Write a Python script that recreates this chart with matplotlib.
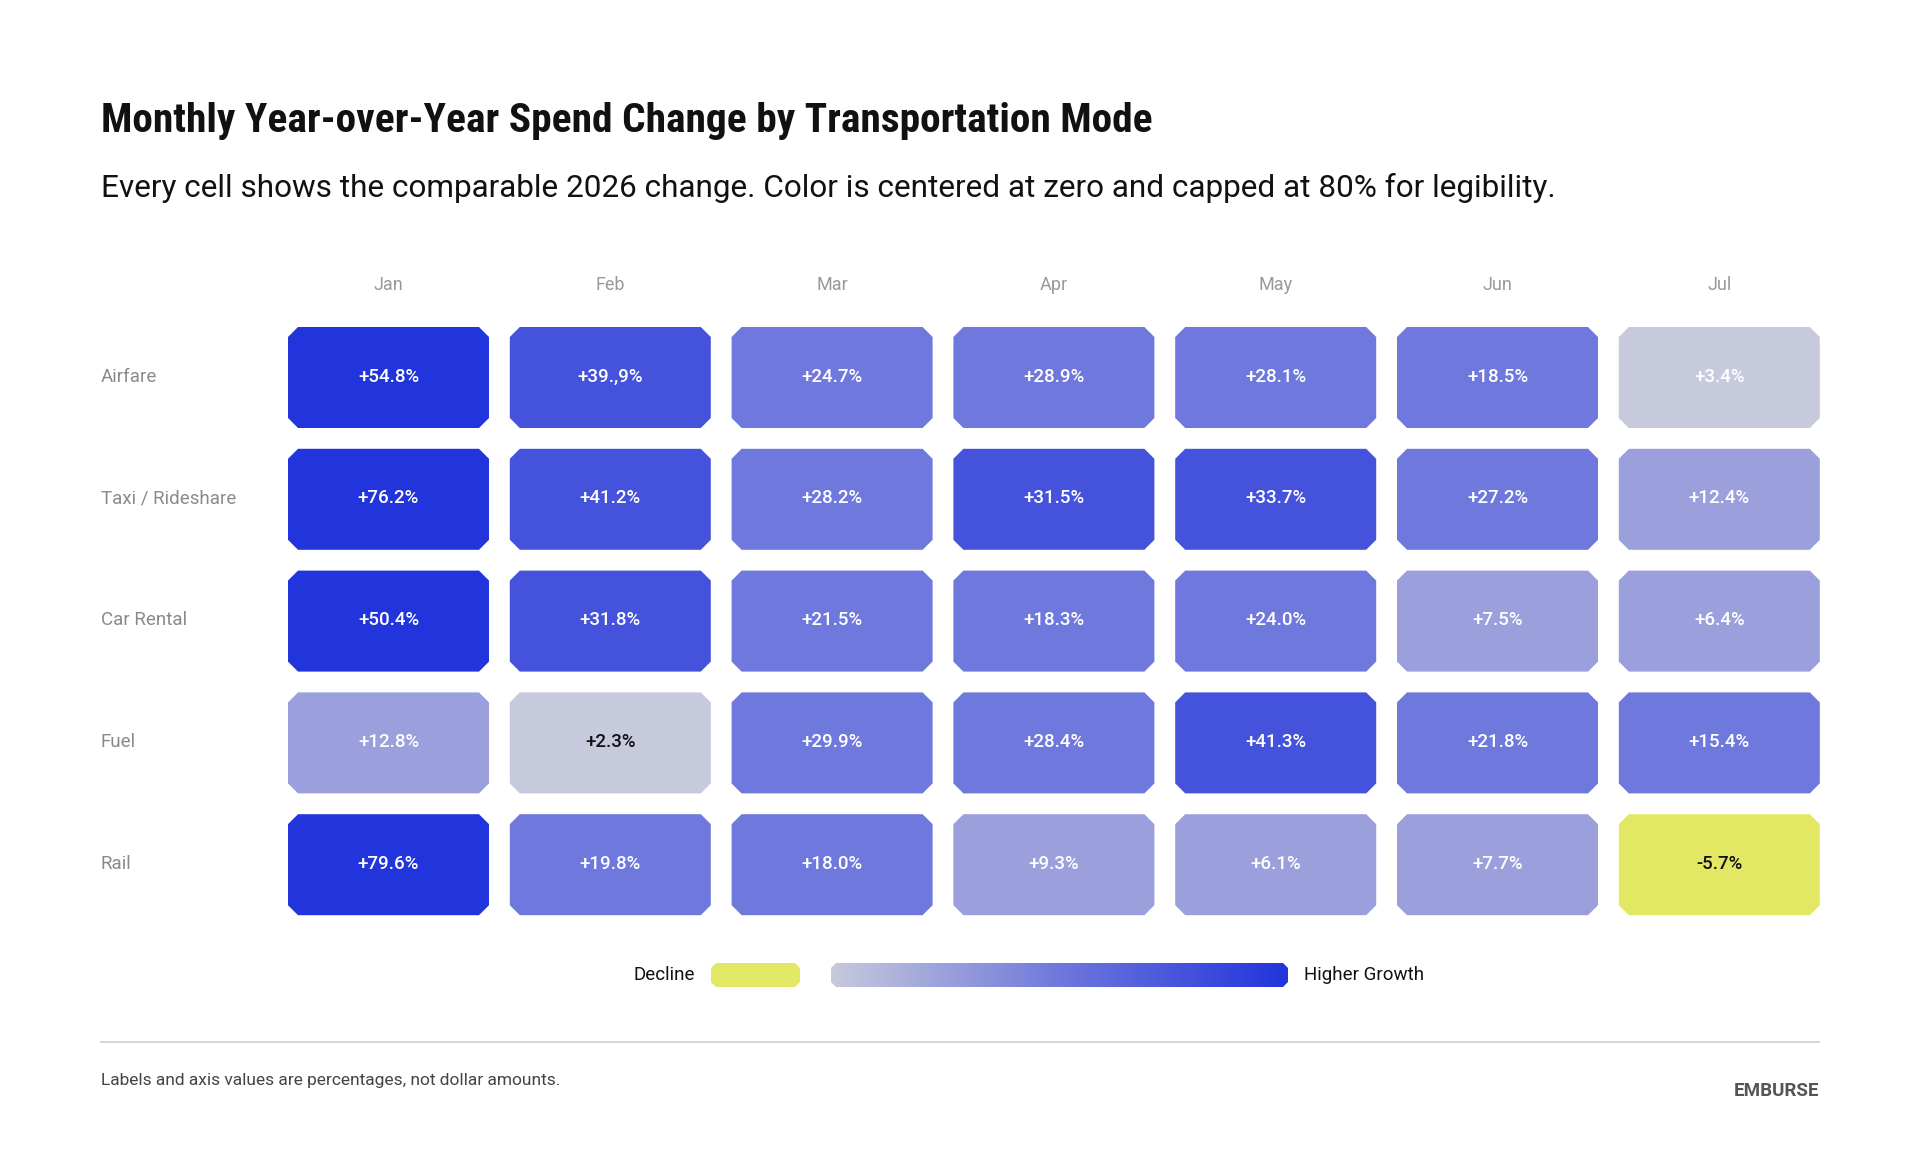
import matplotlib
matplotlib.use("Agg")
import matplotlib.pyplot as plt
import numpy as np
from matplotlib.patches import Polygon
from matplotlib.colors import LinearSegmentedColormap

months = ["Jan", "Feb", "Mar", "Apr", "May", "Jun", "Jul"]
modes = ["Airfare", "Taxi / Rideshare", "Car Rental", "Fuel", "Rail"]
values = [
    [54.8, 39.9, 24.7, 28.9, 28.1, 18.5, 3.4],
    [76.2, 41.2, 28.2, 31.5, 33.7, 27.2, 12.4],
    [50.4, 31.8, 21.5, 18.3, 24.0, 7.5, 6.4],
    [12.8, 2.3, 29.9, 28.4, 41.3, 21.8, 15.4],
    [79.6, 19.8, 18.0, 9.3, 6.1, 7.7, -5.7],
]
# label text as printed (keeps the source's typo)
labels = [
    ["+54.8%", "+39.,9%", "+24.7%", "+28.9%", "+28.1%", "+18.5%", "+3.4%"],
    ["+76.2%", "+41.2%", "+28.2%", "+31.5%", "+33.7%", "+27.2%", "+12.4%"],
    ["+50.4%", "+31.8%", "+21.5%", "+18.3%", "+24.0%", "+7.5%", "+6.4%"],
    ["+12.8%", "+2.3%", "+29.9%", "+28.4%", "+41.3%", "+21.8%", "+15.4%"],
    ["+79.6%", "+19.8%", "+18.0%", "+9.3%", "+6.1%", "+7.7%", "-5.7%"],
]
bins = [0, 5, 15, 30, 50]
bin_colors = ["#C7C9DC", "#9BA0DC", "#6F78DC", "#4452DC", "#2234DB"]
decline_color = "#E3E864"

plt.rcParams["font.family"] = ["Roboto", "DejaVu Sans"]

W, H = 1920, 1170
fig = plt.figure(figsize=(W / 100, H / 100), dpi=100)
ax = fig.add_axes([0, 0, 1, 1])
ax.set_xlim(0, W)
ax.set_ylim(H, 0)
ax.axis("off")


def chamfer(x0, y0, w, h, c):
    return [(x0 + c, y0), (x0 + w - c, y0), (x0 + w, y0 + c), (x0 + w, y0 + h - c),
            (x0 + w - c, y0 + h), (x0 + c, y0 + h), (x0, y0 + h - c), (x0, y0 + c)]


def color_for(v):
    if v < 0:
        return decline_color
    idx = np.searchsorted(bins, v, side="right") - 1
    return bin_colors[idx]


left, top, cw, ch, px, py = 288, 327, 201, 101, 221.8, 121.8
right = 1819
ax.text(101, 121, "Monthly Year-over-Year Spend Change by Transportation Mode",
        fontsize=29.8, fontweight="bold",
        family=["Liberation Sans Narrow", "Roboto Condensed", "DejaVu Sans"],
        va="center", ha="left", color="#111111")
ax.text(101, 188, "Every cell shows the comparable 2026 change. Color is centered at zero "
        "and capped at 80% for legibility.", fontsize=22.7, va="center", color="#111111")

for j, m in enumerate(months):
    ax.text(left + j * px + cw / 2, 285, m, fontsize=13, ha="center", va="center",
            color="#999999")
for i, mode in enumerate(modes):
    yc = top + i * py + ch / 2
    ax.text(101, yc - 1, mode, fontsize=13.5, ha="left", va="center", color="#8a8a8a")
    for j in range(len(months)):
        v = values[i][j]
        x0 = left + j * px
        y0 = top + i * py
        ax.add_patch(Polygon(chamfer(x0, y0, cw, ch, 10), closed=True,
                             facecolor=color_for(v), edgecolor="none"))
        txt_color = "#111111" if (v < 0 or labels[i][j] == "+2.3%") else "white"
        ax.text(x0 + cw / 2, yc - 1, labels[i][j], fontsize=13.5, fontweight="medium",
                ha="center", va="center", color=txt_color)

# legend
ly, lh = 975, 24
ax.text(695, ly, "Decline", fontsize=13.5, ha="right", va="center", color="#111111")
ax.add_patch(Polygon(chamfer(711, ly - lh / 2, 89, lh, 5), closed=True,
                     facecolor=decline_color, edgecolor="none"))
cmap = LinearSegmentedColormap.from_list("growth", ["#C7C9DC", "#6F78DC", "#2234DB"])
grad = np.linspace(0, 1, 256).reshape(1, -1)
im = ax.imshow(grad, cmap=cmap, extent=(831, 1288, ly + lh / 2, ly - lh / 2),
               aspect="auto")
clip = Polygon(chamfer(831, ly - lh / 2, 457, lh, 5), closed=True,
               facecolor="none", edgecolor="none", transform=ax.transData)
ax.add_patch(clip)
im.set_clip_path(clip)
ax.text(1304, ly, "Higher Growth", fontsize=13.5, ha="left", va="center",
        color="#111111")
ax.set_xlim(0, W)
ax.set_ylim(H, 0)

ax.plot([101, right], [1042, 1042], color="#d0d0d0", linewidth=1.2)
ax.text(101, 1081, "Labels and axis values are percentages, not dollar amounts.",
        fontsize=12.5, ha="left", va="center", color="#444444")
ax.text(right, 1091, "EMBURSE", fontsize=13.5, fontweight="bold", ha="right",
        va="center", color="#555555")

fig.savefig("out.png", dpi=100)
